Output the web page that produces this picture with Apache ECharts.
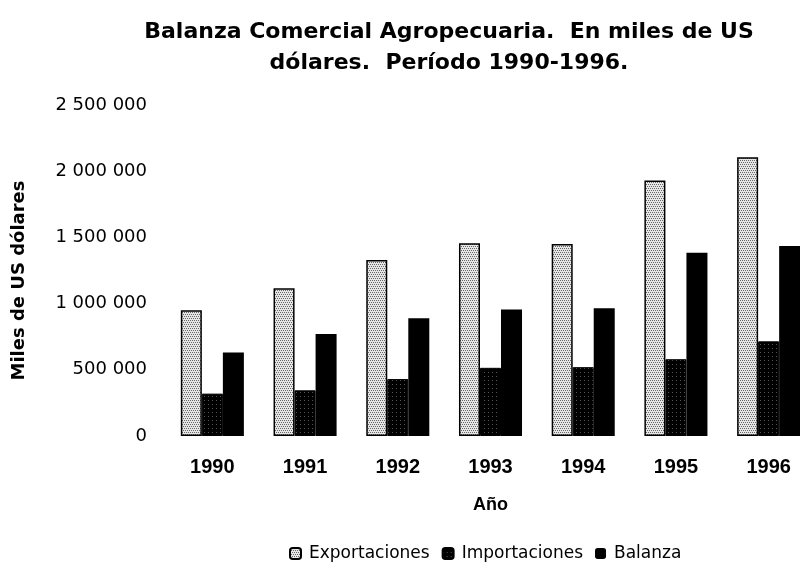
<!DOCTYPE html>
<html>
<head>
<meta charset="utf-8">
<script src="https://cdn.jsdelivr.net/npm/echarts@6/dist/echarts.min.js"></script>
<style>
  html, body { margin: 0; padding: 0; background: #fff; }
  #chartmain { width: 800px; height: 574px; }
</style>
</head>
<body>
<div id="chartmain"></div>
<script>
var years = ['1990', '1991', '1992', '1993', '1994', '1995', '1996'];
var exportaciones = [950000, 1115000, 1330000, 1455000, 1450000, 1930000, 2105000];
var importaciones = [320000, 345000, 430000, 515000, 520000, 580000, 715000];
var balanza = [630000, 770000, 890000, 955000, 965000, 1385000, 1435000];
var yTicks = [0, 500000, 1000000, 1500000, 2000000, 2500000];

// small dotted fill, like the printed halftone
function makePattern(bg, dot, step) {
    var c = document.createElement('canvas');
    c.width = 4; c.height = 4;
    var ctx = c.getContext('2d');
    ctx.fillStyle = bg;
    ctx.fillRect(0, 0, 4, 4);
    ctx.fillStyle = dot;
    for (var y = 0; y < 4; y += step) {
        for (var x = (y / step) % 2; x < 4; x += step) {
            ctx.fillRect(x, y, 1, 1);
        }
    }
    return c;
}

function fmt(v) {
    return String(v).replace(/\B(?=(\d{3})+(?!\d))/g, ' ');
}

window.onload = function () {
    var arial = 'Liberation Sans, Arial, sans-serif';
    var wide = 'DejaVu Sans, sans-serif';
    var option = {
        animation: false,
        title: {
            text: 'Balanza Comercial Agropecuaria.  En miles de US\ndólares.  Período 1990-1996.',
            left: 444,
            top: 12,
            textAlign: 'center',
            textStyle: {
                fontFamily: wide,
                fontSize: 22,
                fontWeight: 'bold',
                color: '#000',
                lineHeight: 31
            }
        },
        legend: {
            data: ['Exportaciones', 'Importaciones', 'Balanza'],
            left: 284,
            top: 540,
            itemWidth: 11,
            itemHeight: 11,
            itemGap: 12,
            textStyle: { fontFamily: wide, fontSize: 17, color: '#000', padding: [0, 0, 0, 3] }
        },
        grid: {
            left: 166,
            top: 105,
            width: 649,
            height: 331,
            outerBoundsMode: 'none'
        },
        xAxis: {
            type: 'category',
            data: years,
            name: 'Año',
            nameLocation: 'middle',
            nameGap: 60,
            nameTextStyle: { fontFamily: arial, fontSize: 18, fontWeight: 'bold', color: '#000' },
            axisLine: { show: false },
            axisTick: { show: false },
            axisLabel: { fontFamily: arial, fontSize: 20, fontWeight: 'bold', color: '#000', margin: 21 }
        },
        yAxis: {
            type: 'value',
            min: yTicks[0],
            max: yTicks[yTicks.length - 1],
            interval: yTicks[1] - yTicks[0],
            name: 'Miles de US dólares',
            nameLocation: 'middle',
            nameGap: 138,
            nameTextStyle: { fontFamily: wide, fontSize: 18, fontWeight: 'bold', color: '#000', padding: [0, 20, 0, 0] },
            axisLine: { show: false },
            axisTick: { show: false },
            splitLine: { show: false },
            axisLabel: { fontFamily: wide, fontSize: 18, color: '#000', margin: 19, formatter: fmt }
        },
        series: [
            {
                name: 'Exportaciones',
                type: 'bar',
                data: exportaciones,
                barGap: '0%',
                barCategoryGap: '32%',
                itemStyle: {
                    color: { image: makePattern('#e6e6e6', '#666', 2), repeat: 'repeat' },
                    borderColor: '#000',
                    borderWidth: 1.5
                }
            },
            {
                name: 'Importaciones',
                type: 'bar',
                data: importaciones,
                itemStyle: {
                    color: { image: makePattern('#000', '#555', 4), repeat: 'repeat' },
                    borderColor: '#000',
                    borderWidth: 1
                }
            },
            {
                name: 'Balanza',
                type: 'bar',
                data: balanza,
                itemStyle: { color: '#000' }
            }
        ]
    };

    var myChart = echarts.init(document.getElementById('chartmain'));
    myChart.setOption(option);
};
</script>
</body>
</html>
